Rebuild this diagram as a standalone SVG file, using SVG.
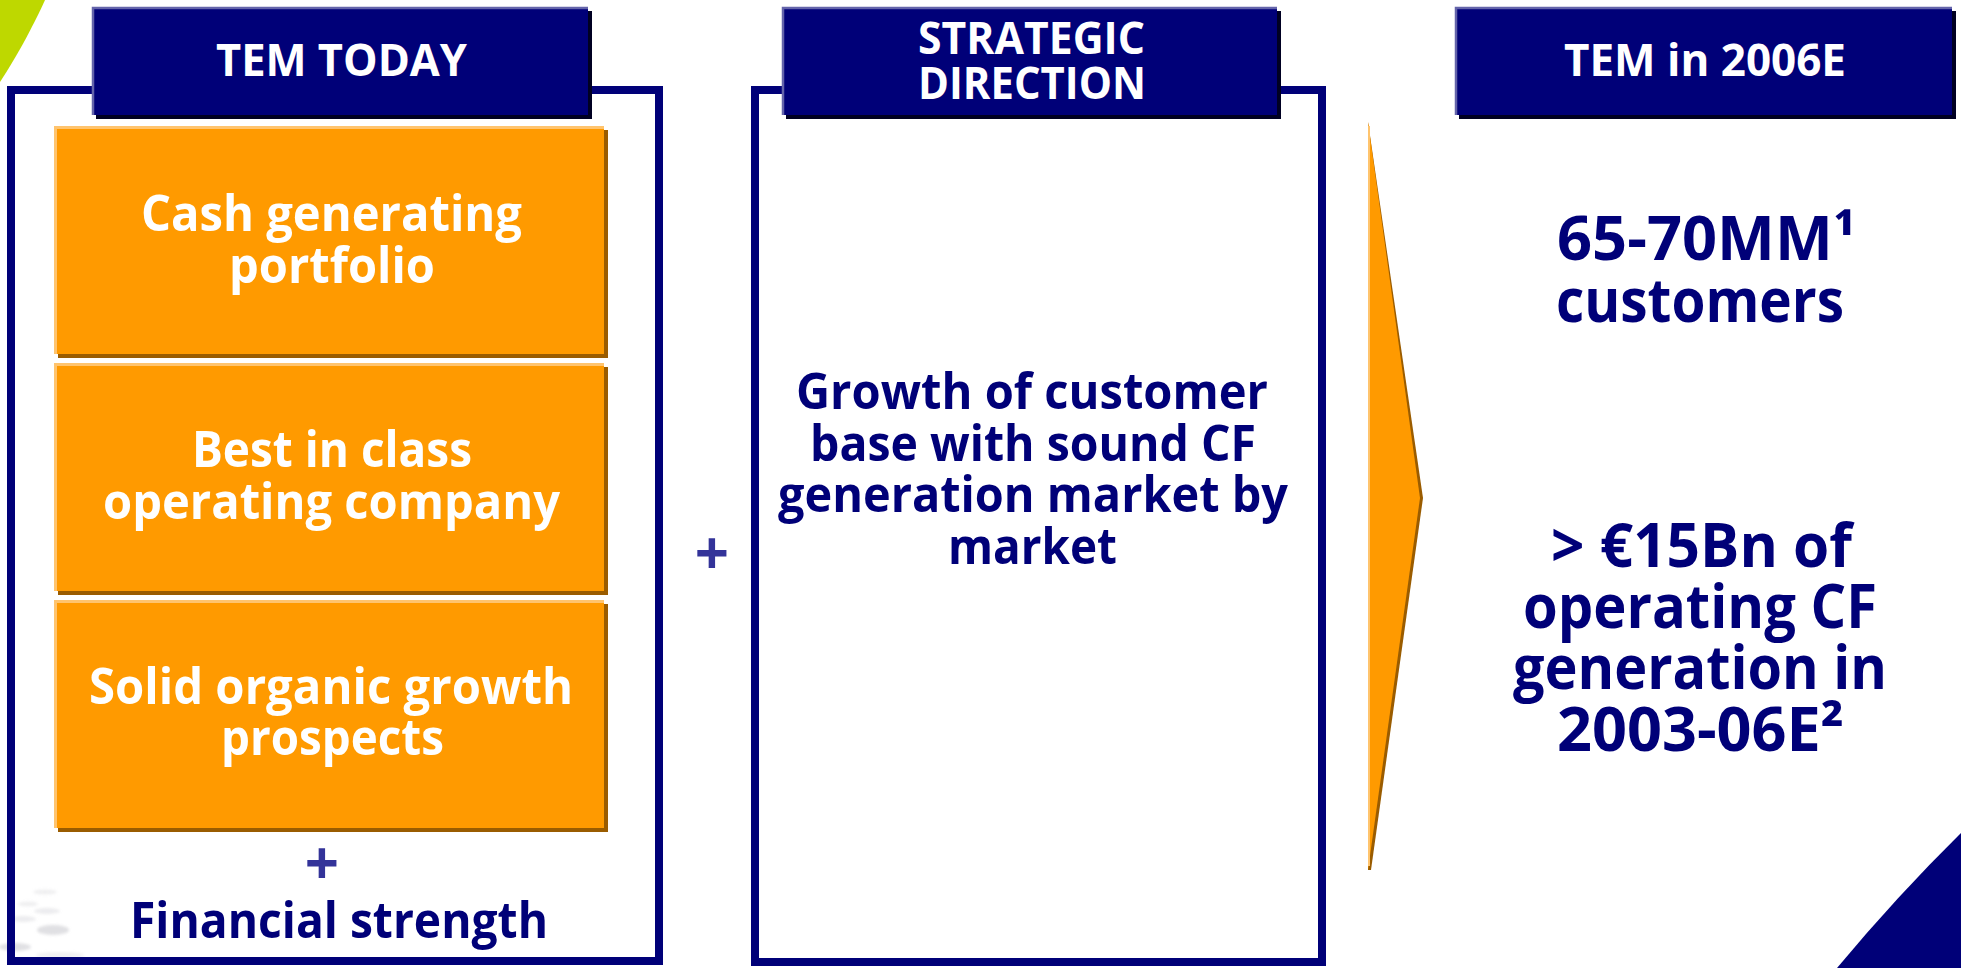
<svg xmlns="http://www.w3.org/2000/svg" width="1961" height="968" viewBox="0 0 1961 968">
  <defs>
    <style>
      text { font-family: "Open Sans", "Liberation Sans", Arial, sans-serif; font-weight: 700; }
      .hdr { fill: #ffffff; font-size: 45px; }
      .box { fill: #ffffff; font-size: 51px; }
      .nav { fill: #000078; font-size: 51px; }
      .big { fill: #000078; font-size: 60px; }
      .plus { fill: #333399; font-size: 60px; text-anchor: middle; }
      .frame { fill: none; stroke: #000078; stroke-width: 8; }
      .hdr-shadow { fill: #000022; }
      .hdr-fill { fill: #000078; }
      .hdr-edge { fill: none; stroke: #6464aa; stroke-width: 2.5; }
      .or-shadow { fill: #9a5c00; }
      .or-fill { fill: #ff9a00; }
      .or-edge { fill: none; stroke: #ffc46e; stroke-width: 3; }
      .blob { fill: #d6d6da; }
    </style>
    <filter id="soft" x="-50%" y="-50%" width="200%" height="200%">
      <feGaussianBlur stdDeviation="1.6"/>
    </filter>
  </defs>

  <rect width="1961" height="968" fill="#ffffff"/>

  <!-- corner decorations -->
  <path d="M0,0 L45,0 C36,20 18,55 0,82 Z" fill="#bed800"/>
  <path d="M1961,833 Q1897,896 1837,968 L1961,968 Z" fill="#000078"/>
  <g filter="url(#soft)" opacity="0.75">
    <ellipse class="blob" cx="45" cy="892" rx="12" ry="2.5" opacity="0.5"/>
    <ellipse class="blob" cx="28" cy="904" rx="10" ry="2.5" opacity="0.5"/>
    <ellipse class="blob" cx="47" cy="911" rx="13" ry="3" opacity="0.6"/>
    <ellipse class="blob" cx="23" cy="919" rx="13" ry="3" opacity="0.6"/>
    <ellipse class="blob" cx="53" cy="930" rx="16" ry="5"/>
    <ellipse class="blob" cx="15" cy="947" rx="16" ry="4"/>
    <ellipse class="blob" cx="60" cy="955" rx="24" ry="3" opacity="0.5"/>
  </g>

  <!-- column 1: TEM today -->
  <g id="col-today">
    <rect class="frame" x="11" y="90" width="648" height="871"/>
    <g id="hdr-today">
      <rect class="hdr-shadow" x="96" y="11" width="496" height="108"/>
      <rect class="hdr-fill" x="92" y="7" width="496" height="108"/>
      <polyline class="hdr-edge" points="93,115 93,8 588,8"/>
      <text class="hdr" x="216" y="76" textLength="251" lengthAdjust="spacingAndGlyphs">TEM TODAY</text>
    </g>
    <g id="box-cash">
      <rect class="or-shadow" x="58" y="130" width="550" height="228"/>
      <rect class="or-fill" x="54" y="126" width="550" height="228"/>
      <polyline class="or-edge" points="55.5,354 55.5,127.5 604,127.5"/>
      <text class="box" x="141" y="231" textLength="381" lengthAdjust="spacingAndGlyphs">Cash generating</text>
      <text class="box" x="229" y="283" textLength="206" lengthAdjust="spacingAndGlyphs">portfolio</text>
    </g>
    <g id="box-best">
      <rect class="or-shadow" x="58" y="367" width="550" height="228"/>
      <rect class="or-fill" x="54" y="363" width="550" height="228"/>
      <polyline class="or-edge" points="55.5,591 55.5,364.5 604,364.5"/>
      <text class="box" x="192" y="467" textLength="280" lengthAdjust="spacingAndGlyphs">Best in class</text>
      <text class="box" x="103" y="519" textLength="457" lengthAdjust="spacingAndGlyphs">operating company</text>
    </g>
    <g id="box-growth">
      <rect class="or-shadow" x="58" y="604" width="550" height="228"/>
      <rect class="or-fill" x="54" y="600" width="550" height="228"/>
      <polyline class="or-edge" points="55.5,828 55.5,601.5 604,601.5"/>
      <text class="box" x="89" y="704" textLength="484" lengthAdjust="spacingAndGlyphs">Solid organic growth</text>
      <text class="box" x="221" y="755" textLength="223" lengthAdjust="spacingAndGlyphs">prospects</text>
    </g>
    <text class="plus" x="322" y="885">+</text>
    <text class="nav" x="130" y="938" textLength="418" lengthAdjust="spacingAndGlyphs">Financial strength</text>
  </g>

  <text class="plus" x="712" y="575">+</text>

  <!-- column 2: strategic direction -->
  <g id="col-strategy">
    <rect class="frame" x="755" y="90" width="567" height="872"/>
    <g id="hdr-strategy">
      <rect class="hdr-shadow" x="786" y="11" width="495" height="108"/>
      <rect class="hdr-fill" x="782" y="7" width="495" height="108"/>
      <polyline class="hdr-edge" points="783,115 783,8 1277,8"/>
      <text class="hdr" x="918" y="54" textLength="227" lengthAdjust="spacingAndGlyphs">STRATEGIC</text>
      <text class="hdr" x="918" y="99" textLength="228" lengthAdjust="spacingAndGlyphs">DIRECTION</text>
    </g>
    <text class="nav" x="796" y="409" textLength="472" lengthAdjust="spacingAndGlyphs">Growth of customer</text>
    <text class="nav" x="810" y="461" textLength="446" lengthAdjust="spacingAndGlyphs">base with sound CF</text>
    <text class="nav" x="778" y="512" textLength="510" lengthAdjust="spacingAndGlyphs">generation market by</text>
    <text class="nav" x="948" y="564" textLength="169" lengthAdjust="spacingAndGlyphs">market</text>
  </g>

  <!-- transition arrow -->
  <g id="connectors">
    <polygon points="1368,122 1423,498 1371,870 1368,870" fill="#9a5c00"/>
    <polygon points="1368,122 1420,498 1368,870" fill="#ff9a00"/>
    <line x1="1369" y1="126" x2="1369" y2="866" stroke="#ffc46e" stroke-width="2"/>
  </g>

  <!-- column 3: TEM in 2006E -->
  <g id="col-2006">
    <g id="hdr-2006">
      <rect class="hdr-shadow" x="1459" y="11" width="497" height="108"/>
      <rect class="hdr-fill" x="1455" y="7" width="497" height="108"/>
      <polyline class="hdr-edge" points="1456,115 1456,8 1952,8"/>
      <text class="hdr" x="1564" y="76" textLength="282" lengthAdjust="spacingAndGlyphs">TEM in 2006E</text>
    </g>
    <text class="big" x="1557" y="260" textLength="299" lengthAdjust="spacingAndGlyphs">65-70MM¹</text>
    <text class="big" x="1556" y="322" textLength="288" lengthAdjust="spacingAndGlyphs">customers</text>
    <text class="big" x="1551" y="567" textLength="301" lengthAdjust="spacingAndGlyphs">&gt; €15Bn of</text>
    <text class="big" x="1523" y="628" textLength="354" lengthAdjust="spacingAndGlyphs">operating CF</text>
    <text class="big" x="1513" y="689" textLength="374" lengthAdjust="spacingAndGlyphs">generation in</text>
    <text class="big" x="1557" y="751" textLength="287" lengthAdjust="spacingAndGlyphs">2003-06E²</text>
  </g>
</svg>
